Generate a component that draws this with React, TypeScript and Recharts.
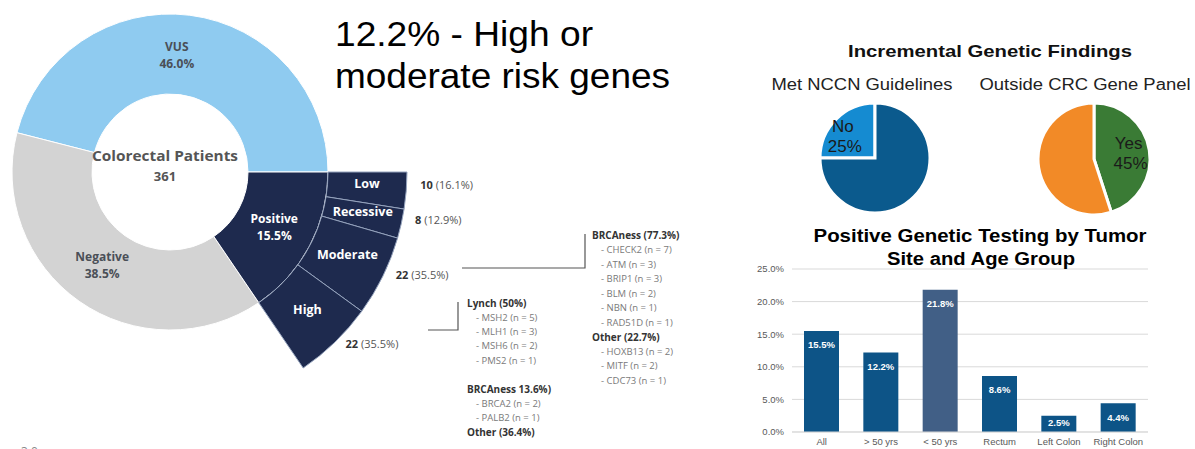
import React from 'react';
import { PieChart, Pie, Cell, BarChart, Bar, XAxis, YAxis, CartesianGrid, LabelList } from 'recharts';

// ---------- data ----------
const resultCategories = ['VUS', 'Negative', 'Positive'];
const resultPercents = [46.0, 38.5, 15.5];
const patientCount = 361;

const riskCategories = ['Low', 'Recessive', 'Moderate', 'High'];
const riskCounts = [10, 8, 22, 22];
const riskPercents = [16.1, 12.9, 35.5, 35.5];

const nccnCategories = ['No', 'Yes'];
const nccnPercents = [25, 75];
const panelCategories = ['Yes', 'No'];
const panelPercents = [45, 55];

const siteCategories = ['All', '> 50 yrs', '< 50 yrs', 'Rectum', 'Left Colon', 'Right Colon'];
const sitePercents = [15.5, 12.2, 21.8, 8.6, 2.5, 4.4];
const sitePercentTicks = [0, 5, 10, 15, 20, 25];

const highRiskNotes = [
  'Lynch (50%)', '- MSH2 (n = 5)', '- MLH1 (n = 3)', '- MSH6 (n = 2)', '- PMS2 (n = 1)', '',
  'BRCAness 13.6%)', '- BRCA2 (n = 2)', '- PALB2 (n = 1)', 'Other (36.4%)',
];
const moderateRiskNotes = [
  'BRCAness (77.3%)', '- CHECK2 (n = 7)', '- ATM (n = 3)', '- BRIP1 (n = 3)', '- BLM (n = 2)',
  '- NBN (n = 1)', '- RAD51D (n = 1)', 'Other (22.7%)', '- HOXB13 (n = 2)', '- MITF (n = 2)', '- CDC73 (n = 1)',
];

const headline = ['12.2% - High or', 'moderate risk genes'];

// ---------- derived tables ----------
const resultData = resultCategories.map((name, i) => ({ name, value: resultPercents[i] }));
const riskData = riskCategories.map((name, i) => ({ name, value: riskCounts[i], pct: riskPercents[i] }));
const nccnData = nccnCategories.map((name, i) => ({ name, value: nccnPercents[i] }));
const panelData = panelCategories.map((name, i) => ({ name, value: panelPercents[i] }));
const siteData = siteCategories.map((name, i) => ({ name, value: sitePercents[i] }));

// ---------- styles ----------
const OPEN = '"Open Sans", "Noto Sans", sans-serif';
const ARIAL = '"Liberation Sans", Arial, sans-serif';
const RAD = Math.PI / 180;
const CX = 165;
const CY = 167;
const R_IN = 78;
const R_MID = 158;
const R_OUT = 237;
const NAVY = '#1e2a4e';
const resultColors: Record<string, string> = { VUS: '#8fcbf0', Negative: '#d3d3d3', Positive: NAVY };
const nccnColors: Record<string, string> = { No: '#158bd1', Yes: '#0b5a8d' };
const panelColors: Record<string, string> = { Yes: '#3a7b35', No: '#f28a27' };

const positiveShare = resultPercents[resultCategories.indexOf('Positive')];

const renderMainLabel = (p: any) => {
  const r = (p.innerRadius + p.outerRadius) / 2;
  const a = -p.midAngle * RAD;
  const x = p.cx + r * Math.cos(a) - (p.name === 'VUS' ? 8 : 0);
  const y = p.cy + r * Math.sin(a) - (p.name === 'Negative' ? 4 : 0);
  const fill = p.name === 'Positive' ? '#ffffff' : '#4a4f57';
  return (
    <text textAnchor="middle" fill={fill} fontFamily={OPEN} fontWeight={700} fontSize={12}>
      <tspan x={x} y={y - 4}>{p.name}</tspan>
      <tspan x={x} y={y + 13}>{Number(p.value).toFixed(1)}%</tspan>
    </text>
  );
};

const renderRiskLabel = (p: any) => {
  const a = -p.midAngle * RAD;
  const rm = (p.innerRadius + p.outerRadius) / 2;
  const xi = p.cx + rm * Math.cos(a);
  const yi = p.cy + rm * Math.sin(a) - 4;
  const ro = p.outerRadius + 11;
  const xo = p.cx + ro * Math.cos(a) + 3;
  const yo = p.cy + ro * Math.sin(a) - 7;
  const pct = p.payload?.pct ?? riskPercents[p.index];
  return (
    <g>
      <text x={xi} y={yi} textAnchor="middle" dominantBaseline="central" fill="#ffffff"
        fontFamily={OPEN} fontWeight={700} fontSize={12.5}>{p.name}</text>
      <text x={xo} y={yo} textAnchor="start" dominantBaseline="central" fontFamily={OPEN} fontSize={11}>
        <tspan fontWeight={700} fill="#333">{p.value}</tspan>
        <tspan fill="#555"> ({pct.toFixed(1)}%)</tspan>
      </text>
    </g>
  );
};

const renderSmallPieLabel = (target: string, dx: number, r: number) => (p: any) => {
  if (p.name !== target) return null;
  const a = -p.midAngle * RAD;
  const x = p.cx + r * Math.cos(a) + dx;
  const y = p.cy + r * Math.sin(a);
  return (
    <text textAnchor="middle" fill="#1a1a1a" fontFamily={ARIAL} fontSize={17}>
      <tspan x={x} y={y - 5}>{p.name}</tspan>
      <tspan x={x + 2} y={y + 15}>{p.value}%</tspan>
    </text>
  );
};

const renderBarLabel = (p: any) => {
  const { x, y, width, height, value } = p;
  const ty = Number(y) + Math.min(14, Number(height) - 10);
  return (
    <text x={Number(x) + Number(width) / 2} y={ty} textAnchor="middle" dominantBaseline="central" fill="#ffffff"
      fontFamily={ARIAL} fontWeight={700} fontSize={9.5}>{Number(value).toFixed(1)}%</text>
  );
};

const Notes = ({ lines, x, y, step }: { lines: string[]; x: number; y: number; step: number }) => (
  <g fontFamily={OPEN}>
    {lines.map((t, i) =>
      t === '' ? null : t.startsWith('-') ? (
        <text key={i} x={x + 9} y={y + i * step} fontSize={9.5} fill="#7a7a7a" dominantBaseline="central">{t}</text>
      ) : (
        <text key={i} x={x} y={y + i * step} fontSize={10} fontWeight={700} fill="#333" dominantBaseline="central">{t}</text>
      )
    )}
  </g>
);

export default function App() {
  return (
    <div style={{ position: 'absolute', left: 0, top: 0, width: 1195, height: 449, background: '#fff', overflow: 'hidden' }}>
      {/* Sunburst-style donut */}
      <div style={{ position: 'absolute', left: 0, top: 0 }}>
        <PieChart width={620} height={449}>
          <Pie data={resultData} dataKey="value" nameKey="name" cx={CX} cy={CY} innerRadius={R_IN} outerRadius={R_MID}
            startAngle={0} endAngle={360} stroke="#ffffff" strokeWidth={1} label={renderMainLabel} labelLine={false}
            isAnimationActive={false}>
            {resultData.map((d) => <Cell key={d.name} fill={resultColors[d.name]} />)}
          </Pie>
          <Pie data={riskData} dataKey="value" nameKey="name" cx={CX} cy={CY} innerRadius={R_MID} outerRadius={R_OUT}
            startAngle={0} endAngle={-3.6 * positiveShare} label={renderRiskLabel} labelLine={false}
            isAnimationActive={false}>
            {riskData.map((d) => <Cell key={d.name} fill={NAVY} stroke="#95a3bd" strokeWidth={1} />)}
          </Pie>
        </PieChart>
      </div>

      {/* Two small pies */}
      <div style={{ position: 'absolute', left: 740, top: 0 }}>
        <PieChart width={455} height={215}>
          <Pie data={nccnData} dataKey="value" nameKey="name" cx={130} cy={153} innerRadius={0} outerRadius={55}
            startAngle={90} endAngle={450} stroke="#ffffff" strokeWidth={3}
            label={renderSmallPieLabel('No', -11, 30)} labelLine={false} isAnimationActive={false}>
            {nccnData.map((d) => <Cell key={d.name} fill={nccnColors[d.name]} />)}
          </Pie>
          <Pie data={panelData} dataKey="value" nameKey="name" cx={349} cy={154} innerRadius={0} outerRadius={56}
            startAngle={90} endAngle={-270} stroke="#ffffff" strokeWidth={3}
            label={renderSmallPieLabel('Yes', 0, 35)} labelLine={false} isAnimationActive={false}>
            {panelData.map((d) => <Cell key={d.name} fill={panelColors[d.name]} />)}
          </Pie>
        </PieChart>
      </div>

      {/* Bar chart */}
      <div style={{ position: 'absolute', left: 740, top: 255 }}>
        <BarChart width={420} height={194} data={siteData} margin={{ top: 14, right: 12, left: 2, bottom: 3 }}>
          <CartesianGrid vertical={false} stroke="#d9d9d9" />
          <XAxis dataKey="name" height={14} tickLine={false} tickSize={4} axisLine={{ stroke: '#d9d9d9' }}
            tick={{ fontFamily: ARIAL, fontSize: 9.5, fill: '#595959' }} interval={0} />
          <YAxis width={50} domain={[0, 25]} ticks={sitePercentTicks} tickLine={false} axisLine={false}
            tickFormatter={(v: number) => `${v.toFixed(1)}%`}
            tick={{ fontFamily: ARIAL, fontSize: 9.5, fill: '#595959' }} />
          <Bar dataKey="value" barSize={35} isAnimationActive={false}>
            {siteData.map((d) => <Cell key={d.name} fill={d.name === '< 50 yrs' ? '#415f86' : '#0d5487'} />)}
            <LabelList dataKey="value" content={renderBarLabel} />
          </Bar>
        </BarChart>
      </div>

      {/* Annotations */}
      <svg width={1195} height={449} style={{ position: 'absolute', left: 0, top: 0, pointerEvents: 'none' }}>
        <text x={CX} y={CY - 6} textAnchor="middle" fontFamily={OPEN} fontWeight={700} fontSize={15} fill="#555"
          textLength={146} lengthAdjust="spacingAndGlyphs">Colorectal Patients</text>
        <text x={CX} y={CY + 14} textAnchor="middle" fontFamily={OPEN} fontWeight={700} fontSize={13} fill="#555">{patientCount}</text>

        <polyline points="462,268 585,268 585,234" fill="none" stroke="#555" strokeWidth={1.2} />
        <polyline points="428,330 458,330 458,302" fill="none" stroke="#555" strokeWidth={1.2} />

        <Notes lines={highRiskNotes} x={467} y={303} step={14.3} />
        <Notes lines={moderateRiskNotes} x={592} y={235} step={14.5} />

        <text x={335} y={46} fontFamily={ARIAL} fontSize={35} fill="#000" textLength={258} lengthAdjust="spacingAndGlyphs">{headline[0]}</text>
        <text x={335} y={88} fontFamily={ARIAL} fontSize={35} fill="#000" textLength={335} lengthAdjust="spacingAndGlyphs">{headline[1]}</text>

        <text x={990} y={57} textAnchor="middle" fontFamily={ARIAL} fontWeight={700} fontSize={17} fill="#111"
          textLength={284} lengthAdjust="spacingAndGlyphs">Incremental Genetic Findings</text>
        <text x={862} y={90} textAnchor="middle" fontFamily={ARIAL} fontSize={16} fill="#222"
          textLength={181} lengthAdjust="spacingAndGlyphs">Met NCCN Guidelines</text>
        <text x={1085} y={90} textAnchor="middle" fontFamily={ARIAL} fontSize={16} fill="#222"
          textLength={211} lengthAdjust="spacingAndGlyphs">Outside CRC Gene Panel</text>

        <text x={980} y={242} textAnchor="middle" fontFamily={ARIAL} fontWeight={700} fontSize={18} fill="#000"
          textLength={333} lengthAdjust="spacingAndGlyphs">Positive Genetic Testing by Tumor</text>
        <text x={981} y={265} textAnchor="middle" fontFamily={ARIAL} fontWeight={700} fontSize={18} fill="#000"
          textLength={188} lengthAdjust="spacingAndGlyphs">Site and Age Group</text>

        <text x={21} y={456} fontFamily={OPEN} fontSize={12} fill="#888">3.0</text>
      </svg>
    </div>
  );
}
